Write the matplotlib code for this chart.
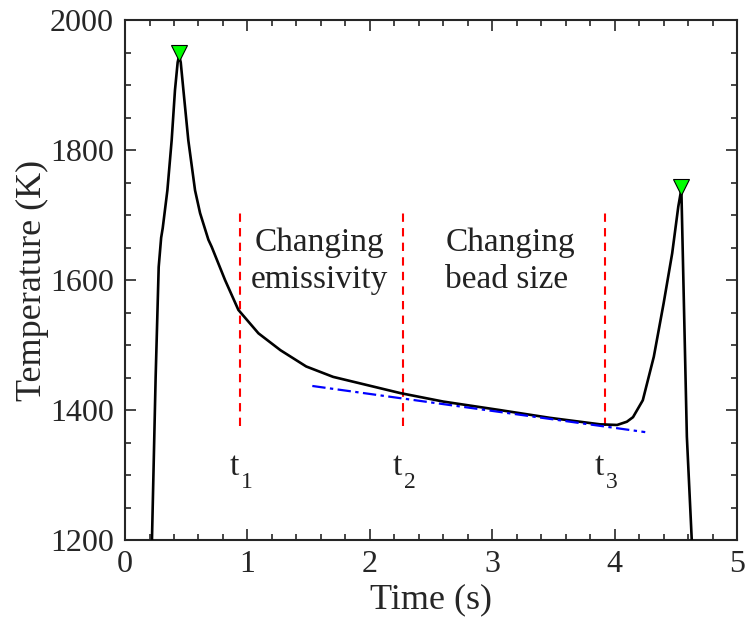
import numpy as np
import matplotlib.pyplot as plt
from matplotlib.ticker import MultipleLocator

plt.rcParams['font.family'] = ['Liberation Serif', 'DejaVu Serif']

# temperature trace
time_s = [0.22, 0.25, 0.275, 0.295, 0.308, 0.346, 0.381, 0.408, 0.43, 0.442,
          0.455, 0.477, 0.517, 0.572, 0.613, 0.681, 0.708, 0.817, 0.926, 1.09,
          1.27, 1.48, 1.70, 1.92, 2.25, 2.60, 3.06, 3.47, 3.88, 4.02, 4.10,
          4.15, 4.23, 4.32, 4.40, 4.47, 4.52, 4.545, 4.59, 4.63]
temp_k = [1200, 1450, 1620, 1665, 1680, 1738, 1815, 1892, 1935, 1945,
          1935, 1892, 1815, 1738, 1703, 1662, 1651, 1600, 1554, 1518,
          1492, 1467, 1451, 1441, 1426, 1413, 1400, 1388, 1378, 1377, 1382,
          1389, 1415, 1482, 1564, 1641, 1713, 1740, 1359, 1200]

# peaks (green markers)
peak_t = [0.442, 4.545]
peak_T = [1949, 1743]

# linear fit (blue dash-dot)
fit_t = [1.53, 4.25]
fit_T = [1437, 1366]

# region boundaries
bound_t = [0.94, 2.27, 3.92]
bound_sub = ['1', '2', '3']
bound_lo, bound_hi = 1375, 1705

fig = plt.figure(figsize=(7.46, 6.2), dpi=100)
ax = fig.add_axes([0.1676, 0.129, 0.8204, 0.8387])

ax.plot(time_s, temp_k, color='k', linewidth=1.9, zorder=3,
        solid_joinstyle='round')
ax.plot(fit_t, fit_T, color='#0000ff', linestyle=(0, (6, 2, 1.5, 2)),
        linewidth=1.6, zorder=4)
for t, sub in zip(bound_t, bound_sub):
    ax.plot([t, t], [bound_lo, bound_hi], color='#ff0000', linestyle=(0, (4, 3)),
            linewidth=1.5, zorder=2)
    ax.annotate('t', xy=(t, 1300), xytext=(-6, 0), textcoords='offset pixels',
                fontsize=24, ha='center', va='baseline', color='#222222')
    ax.annotate(sub, xy=(t, 1300), xytext=(7, -13), textcoords='offset pixels',
                fontsize=17, ha='center', va='baseline', color='#222222')
ax.plot(peak_t, peak_T, linestyle='none', marker='v', markersize=11,
        markerfacecolor='#00ff00', markeredgecolor='k', markeredgewidth=0.8, zorder=5)

ax.text(1.59, 1645, 'Changing', fontsize=24, ha='center', va='baseline', color='#222222')
ax.text(1.59, 1588, 'emissivity', fontsize=24, ha='center', va='baseline', color='#222222')
ax.text(3.145, 1645, 'Changing', fontsize=24, ha='center', va='baseline', color='#222222')
ax.text(3.12, 1588, 'bead size', fontsize=24, ha='center', va='baseline', color='#222222')

ax.set_xlim(0, 5)
ax.set_ylim(1200, 2000)
ax.xaxis.set_major_locator(MultipleLocator(1))
ax.xaxis.set_minor_locator(MultipleLocator(0.2))
ax.yaxis.set_major_locator(MultipleLocator(200))
ax.yaxis.set_minor_locator(MultipleLocator(50))
ax.tick_params(which='both', direction='in', top=True, right=True,
               color='#262626', labelsize=23, labelcolor='#262626', width=1.2)
ax.tick_params(which='major', length=8)
ax.tick_params(which='minor', length=4)
ax.tick_params(axis='x', pad=7)
ax.tick_params(axis='y', pad=8)
for sp in ax.spines.values():
    sp.set_linewidth(1.5)
    sp.set_color('#262626')

ax.set_xlabel('Time (s)', fontsize=26, color='#262626', labelpad=3)
ax.set_ylabel('Temperature (K)', fontsize=26, color='#262626', labelpad=1)

plt.savefig('out.png', dpi=100)
